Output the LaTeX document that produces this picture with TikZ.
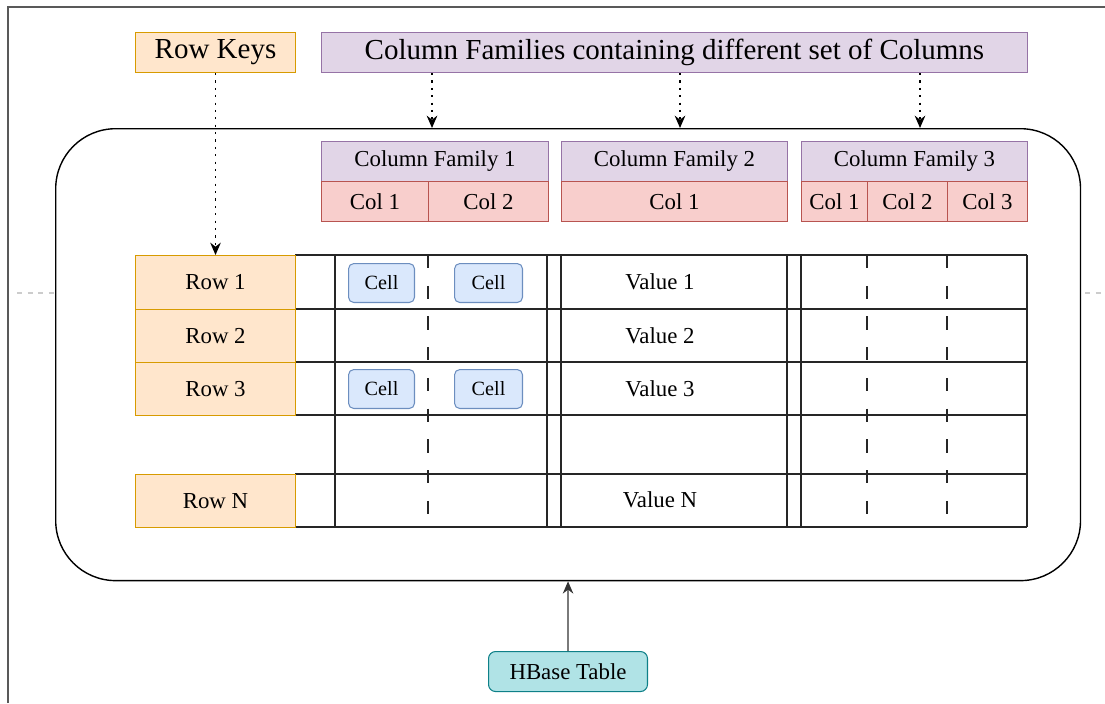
\documentclass[tikz,border=0pt]{standalone}
\usepackage{fontspec}
\setmainfont{Liberation Serif}
\usetikzlibrary{arrows.meta}
\definecolor{keyfill}{HTML}{FFE6CC}
\definecolor{keyline}{HTML}{D79B00}
\definecolor{famfill}{HTML}{E1D5E7}
\definecolor{famline}{HTML}{9673A6}
\definecolor{colfill}{HTML}{F8CECC}
\definecolor{colline}{HTML}{B85450}
\definecolor{cellfill}{HTML}{DAE8FC}
\definecolor{cellline}{HTML}{6C8EBF}
\definecolor{tblfill}{HTML}{B0E3E6}
\definecolor{tblline}{HTML}{0E8088}

\begin{document}
\begin{tikzpicture}[x=0.02cm,y=-0.02cm,
  box/.style={draw,anchor=north west,inner sep=0pt,line width=0.6pt,font=\fontsize{13}{15}\selectfont},
  bigbox/.style={minimum height=0.8cm,font=\fontsize{16.5}{19}\selectfont},
  keybox/.style={box,fill=keyfill,draw=keyline,minimum width=3.2cm},
  fambox/.style={box,fill=famfill,draw=famline,minimum height=0.8cm},
  colbox/.style={box,fill=colfill,draw=colline,minimum height=0.8cm},
  cellbox/.style={box,fill=cellfill,draw=cellline,rounded corners=3pt,minimum height=0.78cm,font=\fontsize{11.5}{13}\selectfont},
  valtext/.style={font=\fontsize{13}{15}\selectfont},
  gridline/.style={line width=0.8pt,black!85},
  dotarrow/.style={-{Stealth[length=7pt,width=6pt]},line width=1.1pt,dash pattern=on 1.2pt off 3pt},
  solidarrow/.style={-{Stealth[length=7pt,width=6pt]},line width=0.8pt,black!80}]
  \useasboundingbox (0,0) rectangle (1105,703);
  \draw[line width=1pt,black!65] (8,703) -- (8,7) -- (1105,7);
  \draw[black!20,line width=0.6pt,dash pattern=on 3pt off 3pt] (17,293) -- (55,293) (1085,293) -- (1105,293);

  \node[draw,anchor=north west,line width=0.8pt,rounded corners=1.2cm,minimum width=20.5cm,minimum height=9.04cm] (table) at (55,128) {};

  \node[keybox,bigbox] (rowkeys) at (135,32) {Row Keys};
  \node[fambox,bigbox,minimum width=14.12cm] (families) at (321,32) {Column Families containing different set of Columns};

  \node[fambox,minimum width=4.54cm] (fam1) at (321,141) {Column Family 1};
  \node[fambox,minimum width=4.52cm] (fam2) at (561,141) {Column Family 2};
  \node[fambox,minimum width=4.52cm] (fam3) at (801,141) {Column Family 3};
  \node[colbox,minimum width=2.14cm] (fam1col1) at (321,181) {Col 1};
  \node[colbox,minimum width=2.4cm] (fam1col2) at (428,181) {Col 2};
  \node[colbox,minimum width=4.52cm] (fam2col1) at (561,181) {Col 1};
  \node[colbox,minimum width=1.32cm] (fam3col1) at (801,181) {Col 1};
  \node[colbox,minimum width=1.6cm] (fam3col2) at (867,181) {Col 2};
  \node[colbox,minimum width=1.6cm] (fam3col3) at (947,181) {Col 3};

  \foreach \y in {255,309,362,415,474,527}
    \draw[gridline] (295,\y) -- (1027,\y);
  \foreach \x in {335,547,561,787,801,1027}
    \draw[gridline] (\x,255) -- (\x,527);
  \foreach \x in {428,867,947}
    \draw[gridline,dash pattern=on 7.5pt off 10pt] (\x,255) -- (\x,527);
  \draw[gridline] (295,255) -- (295,415) (295,474) -- (295,527);

  \node[keybox,minimum height=1.08cm] (row1) at (135,255) {Row 1};
  \node[keybox,minimum height=1.06cm] (row2) at (135,309) {Row 2};
  \node[keybox,minimum height=1.06cm] (row3) at (135,362) {Row 3};
  \node[keybox,minimum height=1.06cm] (rowN) at (135,474) {Row N};

  \node[cellbox,minimum width=1.32cm] (cell11) at (348,263) {Cell};
  \node[cellbox,minimum width=1.36cm] (cell12) at (454,263) {Cell};
  \node[cellbox,minimum width=1.32cm] (cell31) at (348,369) {Cell};
  \node[cellbox,minimum width=1.36cm] (cell32) at (454,369) {Cell};

  \node[valtext] (val1) at (660,282) {Value 1};
  \node[valtext] (val2) at (660,336) {Value 2};
  \node[valtext] (val3) at (660,389) {Value 3};
  \node[valtext] (valN) at (660,500) {Value N};

  \node[box,fill=tblfill,draw=tblline,rounded corners=4pt,minimum width=3.18cm,minimum height=0.8cm] (hbase) at (488,651) {HBase Table};

  \coordinate (famtip1) at (432,128);
  \coordinate (famtip2) at (680,128);
  \coordinate (famtip3) at (920,128);
  \draw[dotarrow] (rowkeys) -- (row1);
  \draw[dotarrow] (families.south -| famtip1) -- (famtip1);
  \draw[dotarrow] (families.south -| famtip2) -- (famtip2);
  \draw[dotarrow] (families.south -| famtip3) -- (famtip3);
  \draw[solidarrow] (hbase) -- (table);
\end{tikzpicture}
\end{document}
